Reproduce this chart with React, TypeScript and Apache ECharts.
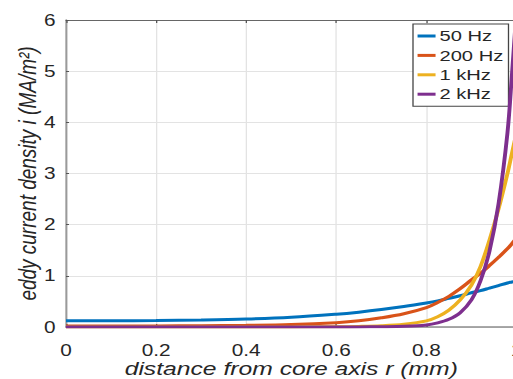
import React, { useEffect, useRef } from "react";
import * as echarts from "echarts";

const r = [0, 0.1, 0.2, 0.3, 0.4, 0.5, 0.6, 0.65, 0.7, 0.75, 0.8, 0.825, 0.85, 0.875, 0.9, 0.92, 0.94, 0.96, 0.98, 0.99, 1.0];
const hz50 = [0.12, 0.122, 0.128, 0.138, 0.156, 0.19, 0.25, 0.29, 0.34, 0.4, 0.47, 0.51, 0.56, 0.61, 0.67, 0.71, 0.76, 0.81, 0.86, 0.88, 0.9];
const hz200 = [0.02, 0.02, 0.021, 0.024, 0.032, 0.048, 0.085, 0.12, 0.18, 0.26, 0.38, 0.48, 0.6, 0.75, 0.92, 1.05, 1.2, 1.36, 1.53, 1.63, 1.74];
const khz1 = [0, 0, 0, 0, 0.001, 0.002, 0.006, 0.012, 0.025, 0.055, 0.12, 0.2, 0.33, 0.53, 0.82, 1.18, 1.7, 2.3, 3.0, 3.4, 3.8];
const khz2 = [0, 0, 0, 0, 0, 0, 0.001, 0.002, 0.005, 0.013, 0.04, 0.08, 0.15, 0.28, 0.53, 0.9, 1.48, 2.4, 3.8, 4.95, 6.2];

const seriesNames = ["50 Hz", "200 Hz", "1 kHz", "2 kHz"];
const seriesValues = [hz50, hz200, khz1, khz2];
const colors = ["#0072BD", "#D95319", "#EDB120", "#7E2F8E"];
const xTicks = [0, 0.2, 0.4, 0.6, 0.8, 1];
const yTicks = [0, 1, 2, 3, 4, 5, 6];

const FONT = "Liberation Sans";
const SX = 1.3; // the reference figure is stretched horizontally
const W = 513;
const H = 379;

export default function App() {
  const ref = useRef<HTMLDivElement>(null);
  useEffect(() => {
    if (!ref.current) return;
    const chart = echarts.init(ref.current, undefined, { renderer: "svg" });
    chart.setOption({
      animation: false,
      backgroundColor: "#ffffff",
      color: colors,
      textStyle: { fontFamily: FONT },
      grid: { left: 66 / SX, top: 20, right: (513 - 516) / SX, bottom: 52, outerBoundsMode: "none", containLabel: false },
      legend: {
        left: 413 / SX,
        top: 24,
        orient: "vertical",
        data: seriesNames,
        icon: "rect",
        itemWidth: 18 / SX,
        itemHeight: 3,
        itemGap: 3.4,
        padding: [4, 4, 4, 3.5],
        backgroundColor: "#ffffff",
        borderColor: "#444444",
        borderWidth: 1,
        borderRadius: 0,
        textStyle: { fontFamily: FONT, fontSize: 15.5, color: "#262626", padding: [0, 0, 0, -2], lineHeight: 15.5 },
      },
      xAxis: [
        {
          type: "value",
          min: xTicks[0],
          max: xTicks[xTicks.length - 1],
          interval: 0.2,
          name: "distance from core axis r (mm)",
          nameLocation: "middle",
          nameGap: 32,
          nameMoveOverlap: false,
          nameTextStyle: { fontFamily: FONT, fontSize: 19, fontStyle: "italic", color: "#262626" },
          axisLine: { show: true, lineStyle: { color: "#8c8c8c", width: 1.5 } },
          axisTick: { show: true, inside: true, length: 3, lineStyle: { color: "#555555" } },
          axisLabel: { fontFamily: FONT, fontSize: 16, color: "#262626", margin: 15 },
          splitLine: { show: true, lineStyle: { color: "#e3e3e3", width: 1 } },
        },
        {
          type: "value",
          position: "top",
          min: xTicks[0],
          max: xTicks[xTicks.length - 1],
          interval: 0.2,
          axisLine: { show: true, onZero: false, lineStyle: { color: "#666666", width: 1 } },
          axisTick: { show: true, inside: true, length: 3, lineStyle: { color: "#555555" } },
          axisLabel: { show: false },
          splitLine: { show: false },
        },
      ],
      yAxis: {
        type: "value",
        min: yTicks[0],
        max: yTicks[yTicks.length - 1],
        interval: 1,
        name: "eddy current density i (MA/m²)",
        nameLocation: "middle",
        nameGap: 20,
        nameMoveOverlap: false,
        nameTextStyle: { fontFamily: FONT, fontSize: 19, fontStyle: "italic", color: "#262626" },
        axisLine: { show: true, lineStyle: { color: "#9a9a9a", width: 1.5 } },
        axisTick: { show: true, inside: true, length: 3 / SX, lineStyle: { color: "#555555" } },
        axisLabel: { fontFamily: FONT, fontSize: 16, color: "#262626", margin: 8 },
        splitLine: { show: true, lineStyle: { color: "#e3e3e3", width: 1 } },
      },
      series: seriesNames.map((name, i) => ({
        name,
        type: "line",
        xAxisIndex: 0,
        data: r.map((x, j) => [x, seriesValues[i][j]]),
        showSymbol: false,
        symbol: "none",
        smooth: 0.35,
        lineStyle: { width: 3, color: colors[i] },
        itemStyle: { color: colors[i] },
        z: 2 + i,
      })),
    });
    return () => chart.dispose();
  }, []);
  return (
    <div style={{ position: "fixed", left: 0, top: 0, width: W, height: H, overflow: "hidden", background: "#fff" }}>
      <div
        ref={ref}
        style={{ width: W / SX, height: H, transform: `scaleX(${SX})`, transformOrigin: "0 0" }}
      />
    </div>
  );
}
